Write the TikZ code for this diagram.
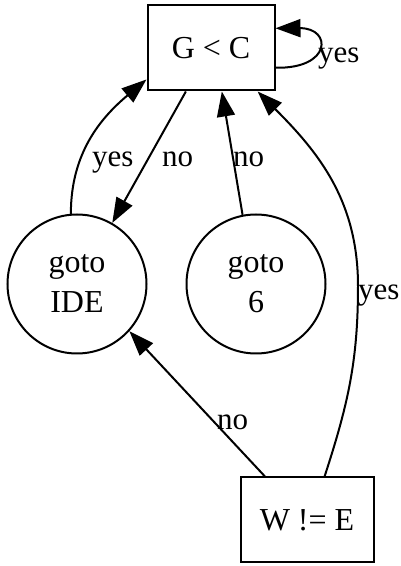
\documentclass[tikz,border=0pt]{standalone}
\usepackage{fontspec}
\setmainfont{Liberation Serif}
\usetikzlibrary{arrows.meta}
\begin{document}
\begin{tikzpicture}[x=1pt,y=1pt,
  every node/.style={font=\fontsize{32}{40}\selectfont},
  boxnode/.style={draw, line width=2pt, inner sep=0pt, align=center},
  circnode/.style={draw, circle, line width=2pt, minimum size=139pt, inner sep=0pt, align=center},
  lbl/.style={font=\fontsize{31}{36}\selectfont, inner sep=0pt, anchor=base west},
  edgeline/.style={line width=2pt, -{Triangle[length=25pt,width=18pt]}}]
\useasboundingbox (0,0) rectangle (400,566);
\node[boxnode, minimum width=127pt, minimum height=85pt] (G) at (211,518) {G < C};
\node[circnode] (IDE) at (77,282) {goto\\IDE};
\node[circnode] (Six) at (256,282) {goto\\6};
\node[boxnode, minimum width=133pt, minimum height=85pt] (W) at (307,46) {W != E};
% edges
\draw[edgeline] (G.-17) .. controls (332,497) and (332,538) .. (G.17);
\draw[edgeline] (IDE.95) to[out=90,in=220] (G.206);
\draw[edgeline] (G.240) -- (IDE.60);
\draw[edgeline] (Six.101) -- (G.284);
\draw[edgeline] (W.134) -- (IDE.318);
\draw[edgeline] (W.68) to[out=72,in=-90] (358,280) to[out=90,in=-45] (G.317);
% labels
\node[lbl] (l1) at (318,503) {yes};
\node[lbl] (l2) at (92,399) {yes};
\node[lbl] (l3) at (162,399) {no};
\node[lbl] (l4) at (233,399) {no};
\node[lbl] (l5) at (358,266) {yes};
\node[lbl] (l6) at (217,136) {no};
\end{tikzpicture}
\end{document}
